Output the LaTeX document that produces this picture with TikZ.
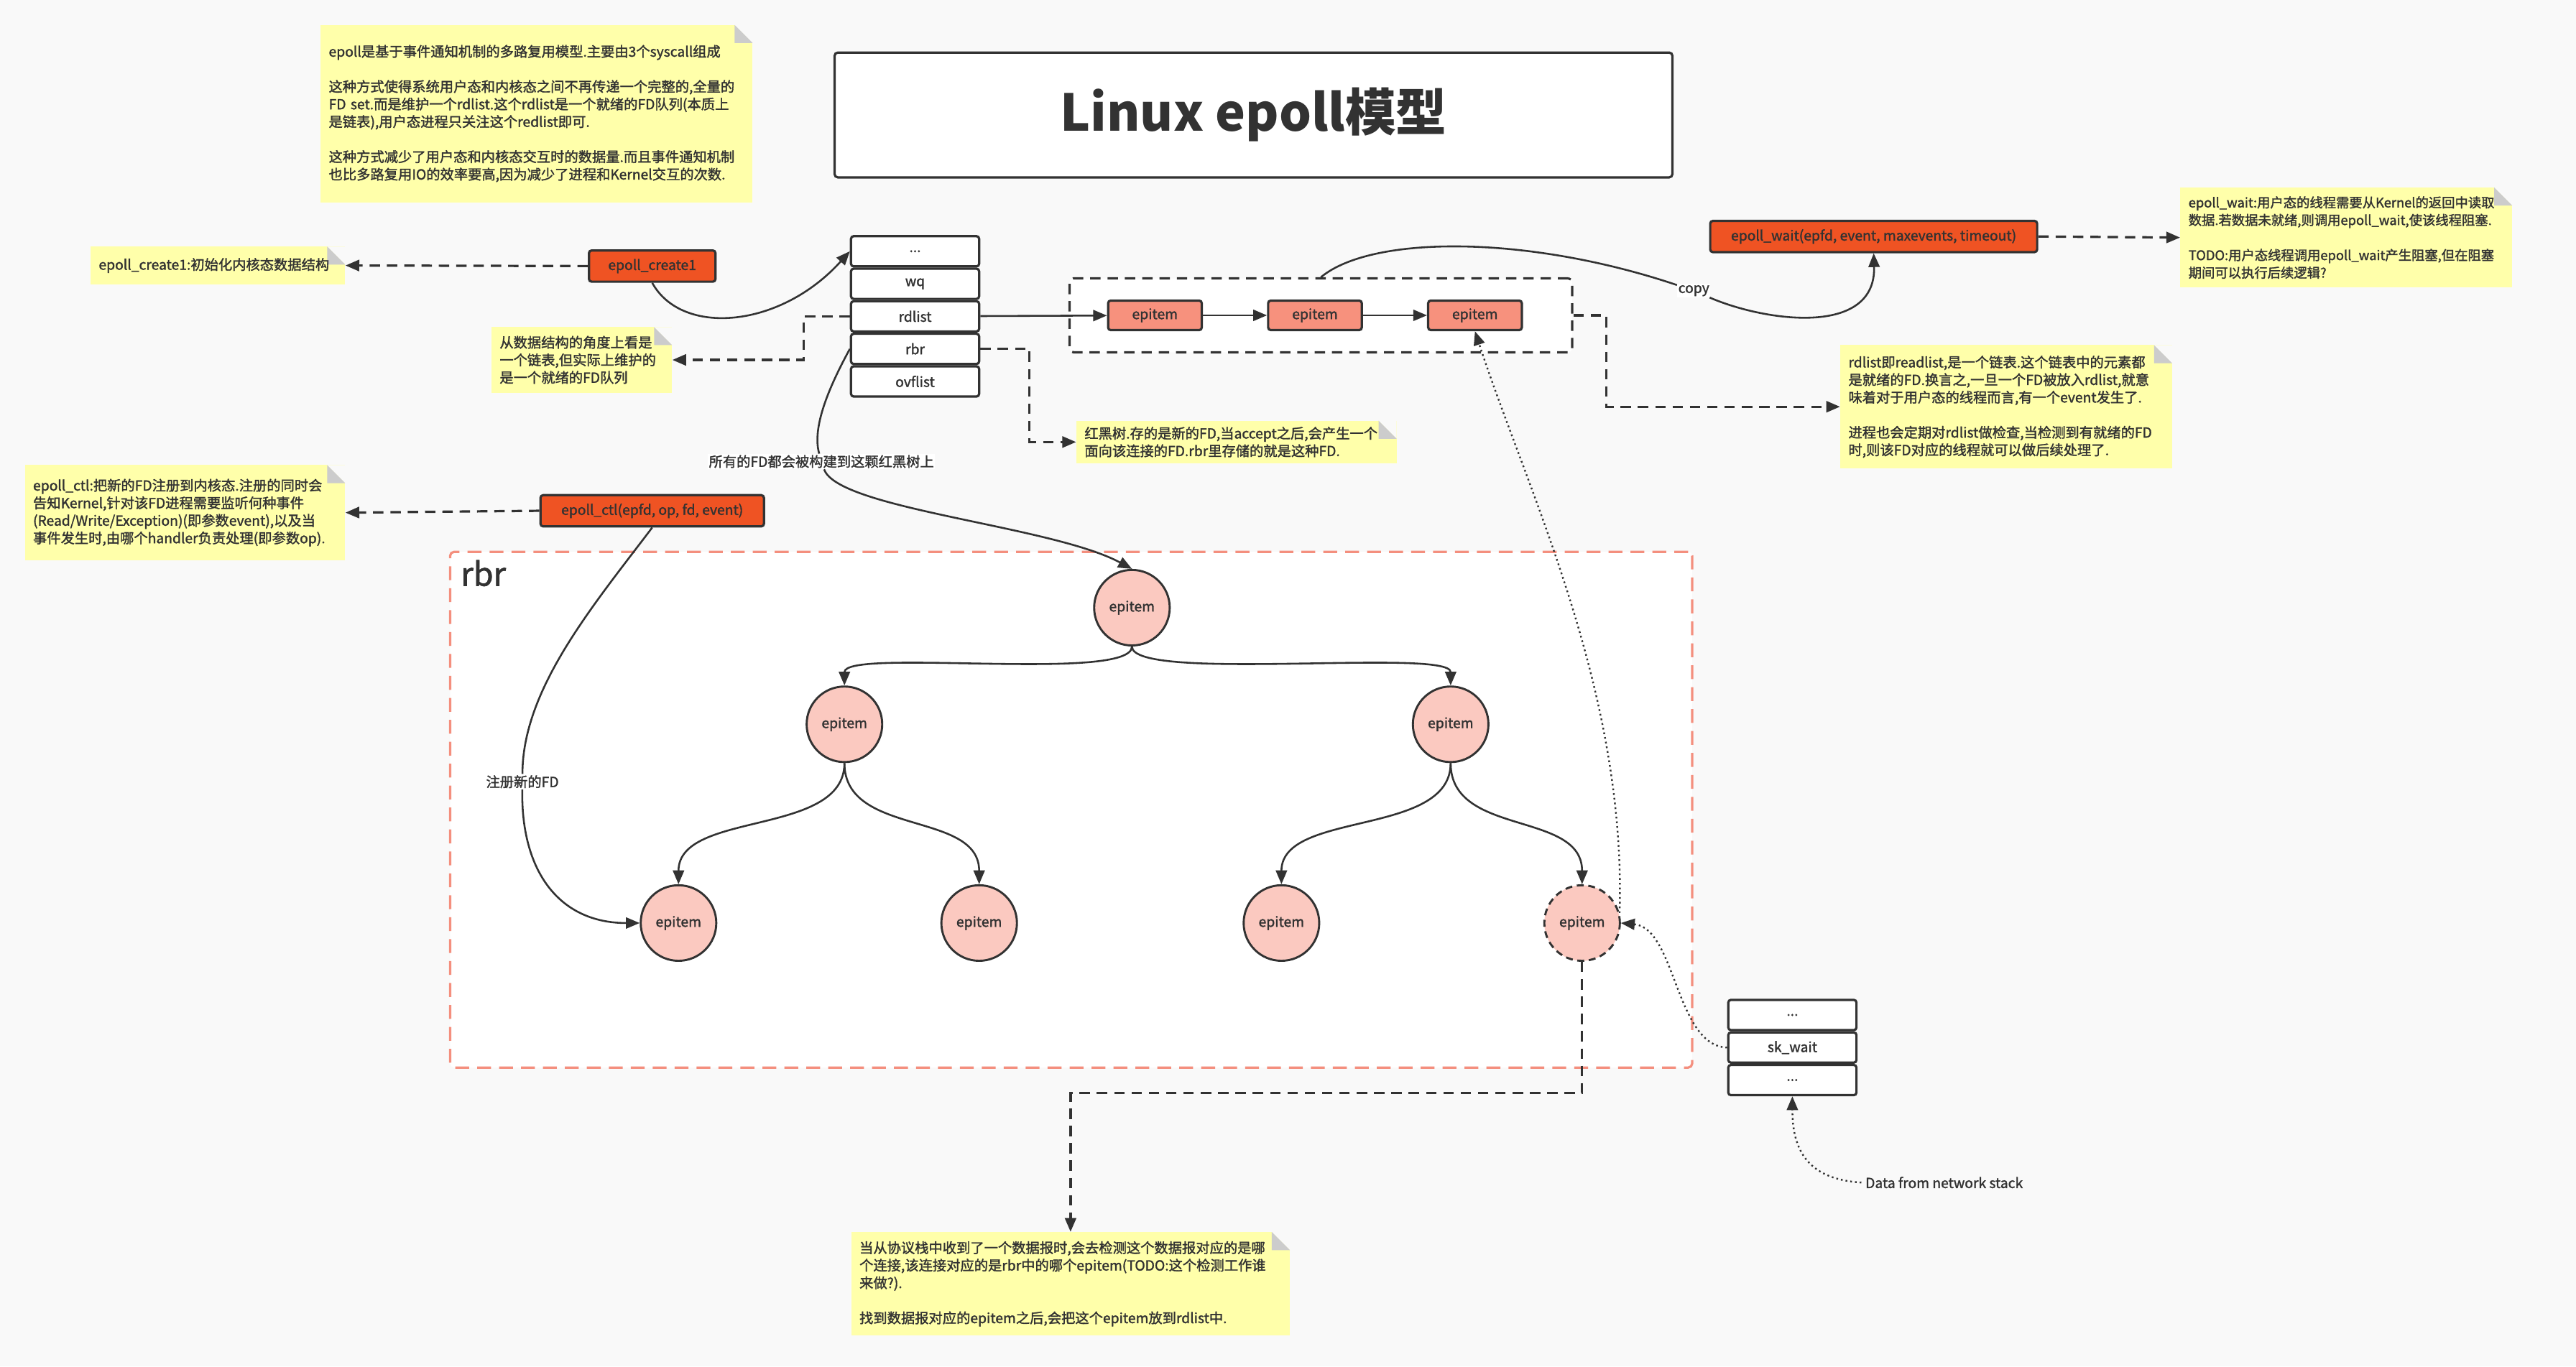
\documentclass[tikz,border=0pt]{standalone}
\usepackage{fontspec}
\setmainfont{Noto Sans CJK SC}[BoldFont={Noto Sans CJK SC},BoldFeatures={FakeBold=1.6}]
\newfontfamily\titlefont{Noto Sans CJK SC}
\usetikzlibrary{arrows.meta}
\usetikzlibrary{positioning}

\definecolor{bgc}{HTML}{F9F9F9}
\definecolor{notec}{HTML}{FFFFAA}
\definecolor{foldc}{HTML}{CCCCCC}
\definecolor{linec}{HTML}{323232}
\definecolor{callc}{HTML}{EF5323}
\definecolor{itemc}{HTML}{F7917D}
\definecolor{treec}{HTML}{FBC9C0}
\definecolor{rbrc}{HTML}{F48F7E}

\begin{document}
\begin{tikzpicture}[x=0.5mm,y=-0.5mm,node distance=19.5mm and 19.5mm,>={Triangle[length=4.2mm,width=3.4mm]},
		every node/.style={text=linec,font=\fontsize{12}{15.2}\selectfont\bfseries},
		cell/.style={draw=linec,line width=2pt,fill=white,rounded corners=0.8mm,minimum width=39mm,minimum height=9.2mm,inner sep=0pt},
		call/.style={draw=linec,line width=2pt,fill=callc,rounded corners=0.8mm,minimum height=9.5mm,inner sep=0pt},
		item/.style={draw=linec,line width=2pt,fill=itemc,rounded corners=0.8mm,minimum width=28.5mm,minimum height=9mm,inner sep=0pt},
		tnode/.style={draw=linec,line width=1.8pt,fill=treec,circle,minimum size=23mm,inner sep=0pt},
		cont/.style={line width=2pt,fill=white,rounded corners=1.2mm},
		note/.style={fill=notec,align=left,anchor=north west,inner xsep=2.5mm,inner ysep=0pt,
			path picture={
				\fill [bgc] ([xshift=-5.5mm]path picture bounding box.north east) -- (path picture bounding box.north east) -- ([yshift=-5.5mm]path picture bounding box.north east) -- cycle;
				\fill [foldc] ([xshift=-5.5mm]path picture bounding box.north east) -- ([xshift=-5.5mm,yshift=-5.5mm]path picture bounding box.north east) -- ([yshift=-5.5mm]path picture bounding box.north east) -- cycle;
			}},
		lbl/.style={fill=white,inner sep=1pt},
		link/.style={draw=linec,line width=1.6pt},
		hint/.style={draw=linec,line width=2pt,dash pattern=on 9pt off 6pt,->},
		dotlink/.style={draw=linec,line width=1.5pt,dash pattern=on 1.5pt off 2.6pt,->}]
		\useasboundingbox (0,0) rectangle (1568,832);
		\fill [bgc] (0,0) rectangle (1568,832);

		\node [draw=linec,line width=2pt,fill=white,rounded corners=1mm,minimum width=255mm,minimum height=38mm,font=\titlefont\fontsize{44}{50}\selectfont\bfseries] (title) at (763,70) {Linux epoll模型};

		\node [note,text width=126.5mm,minimum height=54mm] (nsys) at (195,15) {epoll是基于事件通知机制的多路复用模型.主要由3个syscall组成\\[15.2pt]这种方式使得系统用户态和内核态之间不再传递一个完整的,全量的\\FD set.而是维护一个rdlist.这个rdlist是一个就绪的FD队列(本质上\\是链表),用户态进程只关注这个redlist即可.\\[15.2pt]这种方式减少了用户态和内核态交互时的数据量.而且事件通知机制\\也比多路复用IO的效率要高,因为减少了进程和Kernel交互的次数.};
		\node [note,text width=72.5mm,minimum height=11.5mm] (ncreate) at (55,150) {epoll\_create1:初始化内核态数据结构};
		\node [note,text width=50mm,minimum height=20mm] (nrdl) at (299,199) {从数据结构的角度上看是\\一个链表,但实际上维护的\\是一个就绪的FD队列};
		\node [note,text width=92.5mm,minimum height=13mm] (nrbr) at (655,256) {红黑树.存的是新的FD,当accept之后,会产生一个\\面向该连接的FD.rbr里存储的就是这种FD.};
		\node [note,text width=92.5mm,minimum height=29mm] (nctl) at (15,283) {epoll\_ctl:把新的FD注册到内核态.注册的同时会\\告知Kernel,针对该FD进程需要监听何种事件\\(Read/Write/Exception)(即参数event),以及当\\事件发生时,由哪个handler负责处理(即参数op).};
		\node [note,text width=96mm,minimum height=30.5mm,font=\fontsize{11.4}{15.2}\selectfont\bfseries] (nwait) at (1327,114) {epoll\_wait:用户态的线程需要从Kernel的返回中读取\\数据.若数据未就绪,则调用epoll\_wait,使该线程阻塞.\\[15.2pt]TODO:用户态线程调用epoll\_wait产生阻塞,但在阻塞\\期间可以执行后续逻辑?};
		\node [note,text width=96mm,minimum height=37.5mm] (nready) at (1120,210) {rdlist即readlist,是一个链表.这个链表中的元素都\\是就绪的FD.换言之,一旦一个FD被放入rdlist,就意\\味着对于用户态的线程而言,有一个event发生了.\\[15.2pt]进程也会定期对rdlist做检查,当检测到有就绪的FD\\时,则该FD对应的线程就可以做后续处理了.};
		\node [note,text width=128.5mm,minimum height=31.5mm] (nbot) at (518,750) {当从协议栈中收到了一个数据报时,会去检测这个数据报对应的是哪\\个连接,该连接对应的是rbr中的哪个epitem(TODO:这个检测工作谁\\来做?).\\[15.2pt]找到数据报对应的epitem之后,会把这个epitem放到rdlist中.};

		\node [cont,draw=rbrc,dash pattern=on 12pt off 7pt,minimum width=378mm,minimum height=157mm] (rbrbox) at (652,493) {};
		\node [anchor=west,font=\fontsize{28}{30}\selectfont\bfseries] (rbrname) at (278,349) {rbr};
		\node [cont,draw=linec,dash pattern=on 9pt off 6pt,minimum width=153mm,minimum height=22.5mm] (rdbox) at (804,192) {};

		\node [call,minimum width=38.5mm] (create) at (397,162) {epoll\_create1};
		\node [call,minimum width=68mm] (ctl) at (397,311) {epoll\_ctl(epfd, op, fd, event)};
		\node [call,minimum width=99.5mm] (wait) at (1140.5,144) {epoll\_wait(epfd, event, maxevents, timeout)};

		\node [cell] (sdots) at (557,153) {...};
		\node [cell,below=0pt of sdots] (wq) {wq};
		\node [cell,below=0pt of wq] (rdlist) {rdlist};
		\node [cell,below=0pt of rdlist] (rbr) {rbr};
		\node [cell,below=0pt of rbr] (ovflist) {ovflist};

		\node [item] (e1) at (703,192) {epitem};
		\node [item,right=of e1] (e2) {epitem};
		\node [item,right=of e2] (e3) {epitem};

		\node [tnode] (root) at (689,370) {epitem};
		\node [tnode] (l2a) at (514,441) {epitem};
		\node [tnode] (l2b) at (883,441) {epitem};
		\node [tnode] (l3a) at (413,562) {epitem};
		\node [tnode] (l3b) at (596,562) {epitem};
		\node [tnode] (l3c) at (780,562) {epitem};
		\node [tnode,dash pattern=on 6pt off 4pt] (l3d) at (963,562) {epitem};

		\node [cell] (sk1) at (1091,618) {...};
		\node [cell,below=0pt of sk1] (skwait) {sk\_wait};
		\node [cell,below=0pt of skwait] (sk2) {...};
		\node [anchor=west] (net) at (1133,720) {Data from network stack};

		\node [lbl] (copy) at (1031,177) {copy};
		\node [lbl] (allfd) at (500,281) {所有的FD都会被构建到这颗红黑树上};
		\node [lbl] (regfd) at (318,476) {注册新的FD};

		\draw [link,->] (create.south) .. controls (415,205) and (475,200) .. (sdots.west);
		\draw [hint] (create.west) -- (ncreate.east);
		\draw [hint] (rdlist.west) -- ++(-28,0) |- (nrdl.east);
		\draw [hint] (rbr.east) -- ++(30,0) |- (nrbr.west);
		\draw [hint] (rdbox.east) -- ++(20,0) |- (nready.west);
		\draw [link,->] (rdlist) -- (e1);
		\draw [link,->] (e1) -- (e2);
		\draw [link,->] (e2) -- (e3);
		\draw [link,->] (rdbox.north) .. controls (835,143) and (930,143) .. (copy) .. controls (1075,196) and (1142,205) .. (wait.south);
		\draw [hint] (wait.east) -- (nwait.west);
		\draw [hint] (ctl.west) -- (nctl.east);
		\draw [link,->] (rbr.west) .. controls (505,235) and (494,260) .. (allfd) .. controls (510,310) and (640,320) .. (root.north);
		\draw [link,->] (ctl.south) .. controls (360,370) and (318,420) .. (regfd) .. controls (317,530) and (340,562) .. (l3a.west);
		\foreach \c in {l2a,l2b}
			\draw [link,->] (root.south) .. controls +(0,22) and +(0,-23) .. (\c.north);
		\foreach \p/\c in {l2a/l3a,l2a/l3b,l2b/l3c,l2b/l3d}
			\draw [link,->] (\p.south) .. controls +(0,45) and +(0,-45) .. (\c.north);
		\draw [dotlink] (l3d.15) .. controls (990,420) and (930,300) .. (e3.south);
		\draw [dotlink] (skwait.west) .. controls (1020,637) and (1020,565) .. (l3d.east);
		\draw [dotlink] (net.west) .. controls (1100,718) and (1091,700) .. (sk2.south);
		\draw [hint] (l3d.south) -- ++(0,80) -| (nbot.north);
	\end{tikzpicture}
\end{document}
